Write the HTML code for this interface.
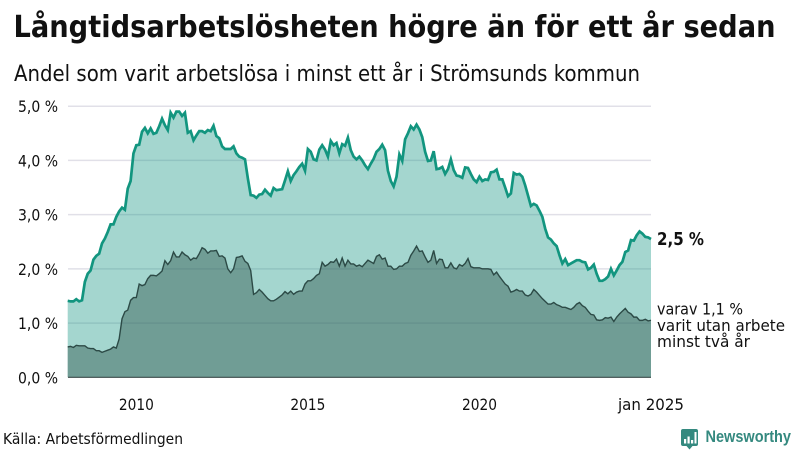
<!DOCTYPE html>
<html lang="sv">
<head>
<meta charset="utf-8">
<title>Långtidsarbetslösheten högre än för ett år sedan</title>
<style>
html,body{margin:0;padding:0;background:#fff;width:800px;height:450px;overflow:hidden}
svg{display:block;font-family:"DejaVu Sans","Liberation Sans",sans-serif;fill:#111}
</style>
</head>
<body>
<svg id="chart" width="800" height="450" viewBox="0 0 800 450" xmlns="http://www.w3.org/2000/svg">
  <text x="13.5" y="37" font-size="30" font-weight="700" textLength="762" lengthAdjust="spacingAndGlyphs">Långtidsarbetslösheten högre än för ett år sedan</text>
  <text x="14" y="81" font-size="22.5" textLength="626" lengthAdjust="spacingAndGlyphs">Andel som varit arbetslösa i minst ett år i Strömsunds kommun</text>
  <g id="grid"></g>
  <g id="yticks"></g>
  <g id="xticks"></g>
  <g id="marks"></g>
  <text x="657" y="245" font-size="17.5" font-weight="700" textLength="47" lengthAdjust="spacingAndGlyphs">2,5 %</text>
  <text x="657" y="314.5" font-size="16" textLength="86" lengthAdjust="spacingAndGlyphs">varav 1,1 %</text>
  <text x="657" y="331" font-size="16" textLength="128" lengthAdjust="spacingAndGlyphs">varit utan arbete</text>
  <text x="657" y="347" font-size="16" textLength="93" lengthAdjust="spacingAndGlyphs">minst två år</text>
  <text x="3" y="444" font-size="15" textLength="180" lengthAdjust="spacingAndGlyphs">Källa: Arbetsförmedlingen</text>
  <g>
    <path d="M683 429h13a2 2 0 0 1 2 2v13a2 2 0 0 1-2 2h-3.500l-3 3.500-3-3.500h-3.500a2 2 0 0 1-2-2v-13a2 2 0 0 1 2-2z" fill="#34897f"/>
    <rect x="684" y="439" width="2.2" height="4.5" fill="#fff"/>
    <rect x="687.500" y="436.500" width="2.2" height="7" fill="#fff"/>
    <rect x="691" y="440" width="2.2" height="3.500" fill="#fff"/>
    <rect x="694.500" y="432" width="2" height="11.5" fill="#fff"/>
    <text x="705.500" y="442" font-family="Liberation Sans, sans-serif" font-size="16.500" font-weight="700" style="fill:#34897f" textLength="85.500" lengthAdjust="spacingAndGlyphs">Newsworthy</text>
  </g>
</svg>
<script>
const startYear = 2008;
const xTickLabels = ["2010", "2015", "2020", "jan 2025"];
const xTickMonths = [24, 84, 144, 204];
const yTicks = [0, 1, 2, 3, 4, 5];
const yTickLabels = ["0,0 %", "1,0 %", "2,0 %", "3,0 %", "4,0 %", "5,0 %"];
const allUnemployed = [
1.41,1.40,1.40,1.44,1.40,1.42,1.76,1.91,1.97,2.17,2.24,2.28,2.47,2.56,2.68,2.82,2.82,2.96,3.06,3.13,3.09,3.48,3.62,4.13,4.28,
4.29,4.53,4.60,4.50,4.59,4.49,4.51,4.63,4.77,4.65,4.56,4.88,4.79,4.90,4.90,4.82,4.88,4.51,4.54,4.37,4.46,4.54,4.54,4.51,4.56,
4.54,4.64,4.45,4.41,4.26,4.21,4.21,4.21,4.26,4.13,4.07,4.05,4.02,3.67,3.36,3.35,3.31,3.37,3.38,3.46,3.40,3.35,3.49,3.45,3.46,
3.47,3.63,3.80,3.62,3.73,3.80,3.88,3.94,3.81,4.21,4.16,4.02,4.00,4.20,4.28,4.20,4.07,4.36,4.28,4.32,4.13,4.30,4.27,4.42,4.19,
4.07,4.02,4.07,4.00,3.91,3.84,3.94,4.03,4.16,4.21,4.29,4.19,3.81,3.62,3.52,3.70,4.11,3.99,4.39,4.50,4.63,4.57,4.66,4.57,4.43,
4.16,3.99,4.00,4.17,3.84,3.85,3.88,3.75,3.84,4.02,3.82,3.72,3.71,3.68,3.87,3.86,3.75,3.65,3.60,3.70,3.62,3.65,3.64,3.78,3.79,
3.83,3.65,3.65,3.50,3.34,3.39,3.77,3.74,3.75,3.70,3.54,3.35,3.16,3.20,3.17,3.07,2.96,2.74,2.58,2.54,2.47,2.42,2.25,2.10,2.18,
2.07,2.10,2.13,2.16,2.16,2.13,2.12,1.99,2.02,2.08,1.91,1.78,1.78,1.81,1.86,2.00,1.88,1.97,2.07,2.13,2.31,2.34,2.53,2.52,2.62,
2.69,2.65,2.59,2.58,2.55];
const overTwoYears = [
0.56,0.57,0.55,0.59,0.58,0.58,0.58,0.54,0.53,0.53,0.49,0.49,0.46,0.48,0.50,0.52,0.56,0.54,0.71,1.08,1.21,1.24,1.42,1.47,1.47,
1.72,1.69,1.71,1.82,1.88,1.88,1.87,1.91,1.96,2.15,2.08,2.15,2.31,2.22,2.22,2.31,2.26,2.23,2.16,2.20,2.19,2.28,2.39,2.36,2.29,
2.33,2.33,2.34,2.23,2.24,2.20,2.00,1.93,2.00,2.21,2.22,2.24,2.14,2.10,1.97,1.53,1.56,1.62,1.57,1.51,1.45,1.41,1.41,1.44,1.48,
1.52,1.58,1.54,1.59,1.53,1.57,1.59,1.59,1.72,1.78,1.78,1.82,1.88,1.91,2.12,2.05,2.08,2.13,2.12,2.18,2.05,2.20,2.05,2.16,2.09,
2.09,2.05,2.07,2.04,2.10,2.16,2.13,2.10,2.23,2.26,2.18,2.20,2.05,2.05,1.99,2.00,2.05,2.05,2.10,2.12,2.25,2.33,2.42,2.32,2.33,
2.22,2.12,2.16,2.34,2.10,2.18,2.17,2.02,2.02,2.11,2.02,2.00,2.08,2.05,2.10,2.19,2.04,2.02,2.02,2.02,2.00,2.00,2.00,1.99,1.89,
1.94,1.86,1.79,1.72,1.68,1.57,1.59,1.62,1.59,1.59,1.52,1.50,1.53,1.62,1.57,1.51,1.45,1.40,1.35,1.35,1.38,1.34,1.32,1.29,1.29,
1.27,1.25,1.29,1.35,1.38,1.32,1.29,1.22,1.16,1.15,1.06,1.05,1.06,1.10,1.09,1.11,1.03,1.11,1.17,1.22,1.27,1.20,1.17,1.11,1.11,
1.05,1.05,1.07,1.04,1.05];

const NS = "http://www.w3.org/2000/svg";
const monthCount = allUnemployed.length - 1;
function xScale(m) { return 67.7 + (m / monthCount) * (651 - 67.7); }
function yScale(v) { return 377.3 - (v / 5) * (377.3 - 106.2); }
function make(tag, parentId) {
  const el = document.createElementNS(NS, tag);
  document.getElementById(parentId).appendChild(el);
  return el;
}
function linePath(values) {
  return values.map((v, i) => (i ? "L" : "M") + xScale(i).toFixed(2) + " " + yScale(v).toFixed(2)).join("");
}
function areaPath(values) {
  return linePath(values) + "L" + xScale(values.length - 1).toFixed(2) + " " + yScale(0) + "L" + xScale(0).toFixed(2) + " " + yScale(0) + "Z";
}

yTicks.forEach((t, i) => {
  if (t > 0) {
    const g = make("line", "grid");
    
    
    g.setAttribute("x1", 68);
    g.setAttribute("x2", 651);
    g.setAttribute("y1", yScale(t));
    g.setAttribute("y2", yScale(t));
    g.setAttribute("stroke", "#e1e0e8");
    g.setAttribute("stroke-width", "1.5");
  }
  const label = make("text", "yticks");
  
  
  label.setAttribute("x", 18);
  label.setAttribute("y", yScale(t) + 6);
  label.setAttribute("font-size", "16");
  label.setAttribute("textLength", "40");
  label.setAttribute("lengthAdjust", "spacingAndGlyphs");
  label.textContent = yTickLabels[i];
});

xTickLabels.forEach((t, i) => {
  const label = make("text", "xticks");
  
  
  const w = t.length > 4 ? 66 : 35;
  label.setAttribute("x", xScale(xTickMonths[i]) - w / 2);
  label.setAttribute("y", 410);
  label.setAttribute("font-size", "16");
  label.setAttribute("textLength", w);
  label.setAttribute("lengthAdjust", "spacingAndGlyphs");
  label.textContent = t;
});

const mainArea = make("path", "marks");


mainArea.setAttribute("d", areaPath(allUnemployed));
mainArea.setAttribute("fill", "rgba(17,149,129,0.385)");

const subArea = make("path", "marks");


subArea.setAttribute("d", areaPath(overTwoYears));
subArea.setAttribute("fill", "rgba(59,99,91,0.5)");

const mainLine = make("path", "marks");


mainLine.setAttribute("d", linePath(allUnemployed));
mainLine.setAttribute("fill", "none");
mainLine.setAttribute("stroke", "#12957f");
mainLine.setAttribute("stroke-width", "2.7");

const subLine = make("path", "marks");


subLine.setAttribute("d", linePath(overTwoYears));
subLine.setAttribute("fill", "none");
subLine.setAttribute("stroke", "#2c4a46");
subLine.setAttribute("stroke-width", "1.4");

const baseline = make("line", "marks");


baseline.setAttribute("x1", 68);
baseline.setAttribute("x2", 651);
baseline.setAttribute("y1", yScale(0));
baseline.setAttribute("y2", yScale(0));
baseline.setAttribute("stroke", "#3a4a48");
baseline.setAttribute("stroke-width", "1.2");
</script>
</body>
</html>
